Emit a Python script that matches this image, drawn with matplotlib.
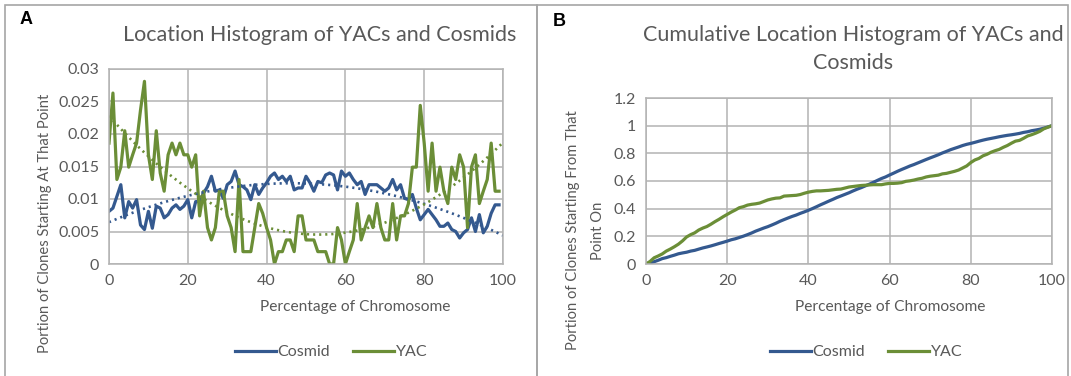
import numpy as np
import matplotlib
matplotlib.use("Agg")
import matplotlib.pyplot as plt
from matplotlib.patches import Rectangle

# percentage of chromosome (start position bins)
positions = list(range(100))

cosmid = [
    0.0081, 0.0086, 0.0104, 0.0122, 0.0071, 0.0096, 0.0086, 0.0099, 0.0060, 0.0053,
    0.0081, 0.0055, 0.0089, 0.0086, 0.0071, 0.0076, 0.0086, 0.0091, 0.0084, 0.0089,
    0.0099, 0.0071, 0.0096, 0.0096, 0.0109, 0.0119, 0.0135, 0.0112, 0.0114, 0.0101,
    0.0122, 0.0127, 0.0143, 0.0122, 0.0119, 0.0114, 0.0099, 0.0122, 0.0107, 0.0117,
    0.0125, 0.0135, 0.0140, 0.0130, 0.0135, 0.0127, 0.0135, 0.0114, 0.0117, 0.0117,
    0.0135, 0.0125, 0.0112, 0.0127, 0.0125, 0.0137, 0.0140, 0.0137, 0.0114, 0.0143,
    0.0135, 0.0140, 0.0130, 0.0122, 0.0127, 0.0107, 0.0122, 0.0122, 0.0122, 0.0117,
    0.0112, 0.0117, 0.0130, 0.0114, 0.0122, 0.0101, 0.0099, 0.0107, 0.0086, 0.0068,
    0.0076, 0.0084, 0.0076, 0.0068, 0.0058, 0.0058, 0.0063, 0.0053, 0.0050, 0.0040,
    0.0048, 0.0053, 0.0071, 0.0050, 0.0076, 0.0048, 0.0058, 0.0078, 0.0091, 0.0091,
]

yac = [
    0.0186, 0.0263, 0.0130, 0.0149, 0.0205, 0.0149, 0.0168, 0.0186, 0.0237, 0.0281,
    0.0168, 0.0130, 0.0205, 0.0140, 0.0112, 0.0168, 0.0186, 0.0168, 0.0186, 0.0168,
    0.0168, 0.0149, 0.0168, 0.0074, 0.0112, 0.0056, 0.0037, 0.0056, 0.0112, 0.0112,
    0.0074, 0.0056, 0.0019, 0.0130, 0.0019, 0.0019, 0.0019, 0.0056, 0.0093, 0.0078,
    0.0056, 0.0037, 0.0000, 0.0019, 0.0019, 0.0037, 0.0037, 0.0019, 0.0074, 0.0074,
    0.0037, 0.0037, 0.0037, 0.0019, 0.0019, 0.0019, 0.0000, 0.0000, 0.0056, 0.0037,
    0.0000, 0.0019, 0.0037, 0.0093, 0.0037, 0.0056, 0.0074, 0.0056, 0.0093, 0.0056,
    0.0037, 0.0037, 0.0093, 0.0037, 0.0074, 0.0074, 0.0093, 0.0149, 0.0149, 0.0244,
    0.0186, 0.0112, 0.0186, 0.0112, 0.0149, 0.0112, 0.0093, 0.0149, 0.0130, 0.0168,
    0.0149, 0.0056, 0.0149, 0.0168, 0.0093, 0.0112, 0.0130, 0.0186, 0.0112, 0.0112,
]

a_xticks = [0, 20, 40, 60, 80, 100]
a_yticks = [0, 0.005, 0.01, 0.015, 0.02, 0.025, 0.03]
a_ylabels = ["0", "0.005", "0.01", "0.015", "0.02", "0.025", "0.03"]
b_yticks = [0, 0.2, 0.4, 0.6, 0.8, 1.0, 1.2]
b_ylabels = ["0", "0.2", "0.4", "0.6", "0.8", "1", "1.2"]

BLUE = "#34598f"
GREEN = "#6b8e37"
GRID = "#b3b3b3"
TEXT = "#595959"
FONT = "Lato"

W, H = 1071, 376
fig = plt.figure(figsize=(W / 100, H / 100), dpi=100)


def px_axes(left, top, right, bottom):
    return fig.add_axes([left / W, 1 - bottom / H, (right - left) / W, (bottom - top) / H])


def px_text(px_x, px_y, s, **kw):
    return fig.text(px_x / W, 1 - px_y / H, s, color=kw.pop("color", TEXT), **kw)


def style(ax, yticks, ylabels, ymax):
    ax.set_xlim(0, 100)
    ax.set_ylim(0, ymax)
    ax.set_xticks(a_xticks)
    ax.set_yticks(yticks)
    ax.set_yticklabels(ylabels)
    ax.grid(True, color=GRID, linewidth=1.1)
    ax.set_axisbelow(True)
    for s in ax.spines.values():
        s.set_color(GRID)
        s.set_linewidth(1.1)
    ax.tick_params(length=0, pad=7, labelsize=11.5, labelcolor=TEXT)
    for lab in ax.get_xticklabels() + ax.get_yticklabels():
        lab.set_fontfamily(FONT)


# panel frames
fig.patches.append(Rectangle((5 / W, -0.1), 532 / W, 1 - 5 / H + 0.1, transform=fig.transFigure,
                             fill=False, edgecolor="#a6a6a6", linewidth=1.2))
fig.patches.append(Rectangle((537 / W, -0.1), 531 / W, 1 - 5 / H + 0.1, transform=fig.transFigure,
                             fill=False, edgecolor="#a6a6a6", linewidth=1.2))

dotted = (0, (0.8, 1.5))
label_kw = dict(fontsize=11.2, fontfamily=FONT, ha="center", va="center")

# ---- panel A
ax1 = px_axes(109, 69, 503, 264)
x = np.array(positions)
l1, = ax1.plot(x, cosmid, color=BLUE, linewidth=2.3, label="Cosmid")
l2, = ax1.plot(x, yac, color=GREEN, linewidth=2.3, label="YAC")
xs = np.linspace(0, 100, 200)
ax1.plot(xs, np.polyval(np.polyfit(x, cosmid, 2), xs), color=BLUE, linewidth=1.9, linestyle=dotted)
ax1.plot(xs, np.polyval(np.polyfit(x, yac, 2), xs), color=GREEN, linewidth=1.9, linestyle=dotted)
style(ax1, a_yticks, a_ylabels, 0.03)
px_text(355, 307, "Percentage of Chromosome", **label_kw)
px_text(45, 223, "Portion of Clones Starting At That Point", rotation=90,
        **{**label_kw, "fontsize": 10.6})
ax1.legend(handles=[l1, l2], loc="center", bbox_to_anchor=(331 / W, 1 - 352 / H), bbox_transform=fig.transFigure,
           ncol=2, frameon=False, handlelength=2.6, handletextpad=0.1, columnspacing=1.4,
           prop={"family": FONT, "size": 11.5}, labelcolor=TEXT)
px_text(320, 35, "Location Histogram of YACs and Cosmids", ha="center", va="center",
        fontsize=15.5, fontfamily=FONT)
px_text(20, 20, "A", ha="left", va="center", fontsize=13, fontweight="bold",
        fontfamily="Liberation Sans", color="black")

# ---- panel B
ax2 = px_axes(646, 98, 1052, 264)
xb = np.arange(101)
cum_cosmid = np.concatenate([[0], np.cumsum(cosmid)]) / np.sum(cosmid)
cum_yac = np.concatenate([[0], np.cumsum(yac)]) / np.sum(yac)
m1, = ax2.plot(xb, cum_cosmid, color=BLUE, linewidth=2.3, label="Cosmid")
m2, = ax2.plot(xb, cum_yac, color=GREEN, linewidth=2.3, label="YAC")
style(ax2, b_yticks, b_ylabels, 1.2)
px_text(890, 307, "Percentage of Chromosome", **label_kw)
px_text(573, 230, "Portion of Clones Starting From That", rotation=90,
        **{**label_kw, "fontsize": 10.6})
px_text(598, 231, "Point On", rotation=90, **{**label_kw, "fontsize": 10.6})
ax2.legend(handles=[m1, m2], loc="center", bbox_to_anchor=(866 / W, 1 - 352 / H), bbox_transform=fig.transFigure,
           ncol=2, frameon=False, handlelength=2.6, handletextpad=0.1, columnspacing=1.4,
           prop={"family": FONT, "size": 11.5}, labelcolor=TEXT)
px_text(853, 35, "Cumulative Location Histogram of YACs and", ha="center", va="center",
        fontsize=15.5, fontfamily=FONT)
px_text(853, 63, "Cosmids", ha="center", va="center", fontsize=15.5, fontfamily=FONT)
px_text(553, 22, "B", ha="left", va="center", fontsize=13, fontweight="bold",
        fontfamily="Liberation Sans", color="black")

fig.savefig("out.png", dpi=100)
